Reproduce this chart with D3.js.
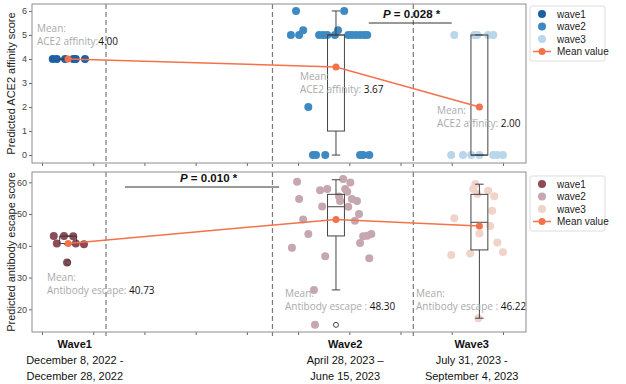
<!DOCTYPE html>
<html>
<head>
<meta charset="utf-8">
<script src="https://cdn.jsdelivr.net/npm/d3@7"></script>
<style>
  body { margin: 0; background: #fff; }
  text { font-family: "Liberation Sans", Arial, sans-serif; }
  .note { font-family: "Open Sans", "Liberation Sans", sans-serif; }
</style>
</head>
<body>
<div id="chart"></div>
<script>
var width = 626, height = 384;

// x positions (arbitrary time units), waves and dividers
var waves = ["wave1", "wave2", "wave3"];
var waveX = [0.51, 5.74, 8.54];
var dividers = [1.25, 4.5, 7.25];
var xTicks = d3.range(0, 10);
var waveTitles = ["Wave1", "Wave2", "Wave3"];
var waveDates = [["December 8, 2022 -", "December 28, 2022"],
                 ["April 28, 2023 \u2013", "June 15, 2023"],
                 ["July 31, 2023 -", "September 4, 2023"]];
var labelX = [0.64, 5.92, 8.39];

// ACE2 affinity points [x, score]
var ace1 = [[0.21,4],[0.29,4],[0.45,4],[0.61,4],[0.66,4],[0.84,4]];
var ace2 = [[4.96,6],[5.90,6],[5.10,5.2],[5.78,5.2],[4.86,5],[5.02,5],[5.41,5],[5.49,5],[5.57,5],
            [5.72,5],[5.98,5],[6.05,5],[6.13,5],[6.21,5],[6.29,5],[6.35,5],[5.20,2],
            [5.29,0],[5.35,0],[5.53,0],[6.21,0],[6.27,0],[6.39,0]];
var ace3 = [[8.05,5],[8.44,5],[8.50,5],[8.71,5],[8.81,5],
            [7.99,0],[8.22,0],[8.38,0],[8.54,0],[8.81,0],[8.89,0],[9.00,0]];
var aceMeans = [4.00, 3.67, 2.00];
// box stats: [lo, q1, median, q3, hi]
var aceBoxes = [[4,4,4,4,4],[0,1,5,5,6],[0,0,0,5,5]];
var aceOut = [[], [], []];

// antibody escape points [x, score]
var esc1 = [[0.23,43.1],[0.43,43.1],[0.61,43],[0.29,40.7],[0.66,40.7],[0.82,40.5],[0.49,34.7]];
var esc2 = [[4.98,60.2],[5.02,54.7],[5.43,57.5],[5.57,57.9],[5.88,61],[6.02,59.9],[5.92,57.9],
            [5.96,57],[5.80,55.5],[5.82,54.1],[6.05,54.7],[6.15,54.1],[5.47,52.4],[5.98,52.3],
            [6.19,50],[5.10,48.3],[6.11,47.9],[5.20,43.7],[6.27,43],[6.35,43.2],[6.43,43.7],
            [6.21,40.9],[4.88,39.4],[5.53,36.7],[6.39,36.1],[5.31,26.1],[5.33,15.1]];
var esc3 = [[8.46,59.5],[8.42,57.9],[8.50,56.3],[8.71,57.3],[8.83,55.6],[8.79,51],[8.05,48.7],
            [8.75,46.2],[8.54,43.9],[8.89,41],[7.99,37.1],[8.36,37.6],[9.00,38],[8.52,17.2]];
var escMeans = [40.73, 48.30, 46.22];
var escBoxes = [[40.5,40.7,43,43,43.1],[26.1,43.1,52.3,56.2,60.8],[17.2,38.7,47.4,56.2,59.4]];
var escOut = [[34.7], [15.1], []];

var aceColors = ["#1f5fa6", "#3d8ac3", "#b9d6ea"];
var escColors = ["#8c4b57", "#c6a7b0", "#f0d3c9"];
var meanColor = "#f4724a";

var svg = d3.select("#chart").append("svg")
    .attr("width", width).attr("height", height);

var x = d3.scaleLinear().domain([-0.195, 9.45]).range([32, 526]);

function panel(cfg) {
  var y = d3.scaleLinear().domain(cfg.yDomain).range([cfg.bottom, cfg.top]);
  var g = svg.append("g");

  // dashed dividers
  g.selectAll(".div").data(dividers).enter().append("line")
    .attr("x1", d => x(d)).attr("x2", d => x(d))
    .attr("y1", cfg.top).attr("y2", cfg.bottom + 4)
    .attr("stroke", "#7a7a7a").attr("stroke-width", 1.2)
    .attr("stroke-dasharray", "5,3");

  // points
  cfg.points.forEach(function(pts, i) {
    g.selectAll(null).data(pts).enter().append("circle")
      .attr("cx", d => x(d[0])).attr("cy", d => y(d[1]))
      .attr("r", 4).attr("fill", cfg.colors[i]);
  });

  // boxes
  var bw = 0.33;
  cfg.boxes.forEach(function(b, i) {
    var cx = waveX[i];
    var bg = g.append("g").attr("stroke", "#444").attr("fill", "none");
    bg.append("line").attr("x1", x(cx)).attr("x2", x(cx)).attr("y1", y(b[0])).attr("y2", y(b[1]));
    bg.append("line").attr("x1", x(cx)).attr("x2", x(cx)).attr("y1", y(b[3])).attr("y2", y(b[4]));
    [b[0], b[4]].forEach(function(v) {
      bg.append("line").attr("x1", x(cx - bw / 4)).attr("x2", x(cx + bw / 4))
        .attr("y1", y(v)).attr("y2", y(v));
    });
    bg.append("rect").attr("x", x(cx - bw / 2)).attr("width", x(cx + bw / 2) - x(cx - bw / 2))
      .attr("y", y(b[3])).attr("height", Math.max(y(b[1]) - y(b[3]), 0.5));
    bg.append("line").attr("x1", x(cx - bw / 2)).attr("x2", x(cx + bw / 2))
      .attr("y1", y(b[2])).attr("y2", y(b[2]));
    cfg.outliers[i].forEach(function(v) {
      bg.append("circle").attr("cx", x(cx)).attr("cy", y(v)).attr("r", 2.5);
    });
  });

  // mean line
  var md = cfg.means.map((m, i) => [waveX[i], m]);
  g.append("path").datum(md)
    .attr("d", d3.line().x(d => x(d[0])).y(d => y(d[1])))
    .attr("fill", "none").attr("stroke", meanColor).attr("stroke-width", 1.5);
  g.selectAll(null).data(md).enter().append("circle")
    .attr("cx", d => x(d[0])).attr("cy", d => y(d[1])).attr("r", 3.5).attr("fill", meanColor);

  // mean notes
  cfg.notes.forEach(function(n, i) {
    g.append("text").attr("class", "note").attr("font-size", 10)
      .attr("x", n[0]).attr("y", n[1]).attr("fill", "#aaa").text("Mean:");
    var t2 = g.append("text").attr("class", "note").attr("font-size", 10)
      .attr("x", n[0]).attr("y", n[1] + 12.5).attr("fill", "#aaa");
    t2.append("tspan").text(cfg.noteLabel[i]);
    t2.append("tspan").attr("fill", "#111").text(cfg.means[i].toFixed(2));
  });

  // p-value
  var p = cfg.p;
  g.append("line").attr("x1", x(p.x1)).attr("x2", x(p.x2)).attr("y1", p.ly).attr("y2", p.ly)
    .attr("stroke", "#333").attr("stroke-width", 1);
  var pt = g.append("text").attr("x", p.tx).attr("y", p.ty).attr("font-size", 11.5)
    .attr("font-weight", "bold").attr("fill", "#111");
  pt.append("tspan").attr("font-style", "italic").text("P");
  pt.append("tspan").text(" = " + p.value + " *");

  // axes
  var ya = g.append("g").attr("transform", "translate(32,0)")
    .call(d3.axisLeft(y).tickValues(cfg.yTicks).tickFormat(d3.format("d")).tickSize(3).tickPadding(2));
  ya.select(".domain").remove();
  ya.selectAll("line").attr("stroke", "#666");
  ya.selectAll("text").attr("font-size", 9).attr("fill", "#444").attr("font-family", "Liberation Sans, Arial");
  var xa = g.append("g").attr("transform", "translate(0," + cfg.bottom + ")")
    .call(d3.axisBottom(x).tickValues(xTicks).tickFormat("").tickSize(3));
  xa.select(".domain").remove();
  xa.selectAll("line").attr("stroke", "#666");

  g.append("rect").attr("x", 32).attr("y", cfg.top).attr("width", 494)
    .attr("height", cfg.bottom - cfg.top).attr("fill", "none").attr("stroke", "#8c8c8c");

  g.append("text").attr("transform", "translate(15," + ((cfg.top + cfg.bottom) / 2) + ") rotate(-90)")
    .attr("text-anchor", "middle").attr("font-size", 11).attr("fill", "#222").text(cfg.yLabel);

  // legend
  var lg = g.append("g").attr("transform", "translate(530," + cfg.legendTop + ")");
  lg.append("rect").attr("width", 75).attr("height", 55).attr("rx", 2)
    .attr("fill", "#fff").attr("stroke", "#ddd");
  var items = waves.concat(["Mean value"]);
  items.forEach(function(name, i) {
    var yy = 8 + i * 12.5;
    if (i < 3) {
      lg.append("circle").attr("cx", 12).attr("cy", yy).attr("r", 4).attr("fill", cfg.colors[i]);
    } else {
      lg.append("line").attr("x1", 3).attr("x2", 21).attr("y1", yy).attr("y2", yy)
        .attr("stroke", meanColor).attr("stroke-width", 1.5);
      lg.append("circle").attr("cx", 12).attr("cy", yy).attr("r", 3.5).attr("fill", meanColor);
    }
    lg.append("text").attr("x", 27).attr("y", yy + 3.5).attr("font-size", 10)
      .attr("fill", "#222").text(name);
  });
}

panel({
  top: 4, bottom: 163, yDomain: [-0.33, 6.29], yTicks: d3.range(0, 7),
  points: [ace1, ace2, ace3], colors: aceColors, boxes: aceBoxes, outliers: aceOut,
  means: aceMeans, notes: [[37, 32], [300, 80], [437, 114]],
  noteLabel: ["ACE2 affinity:", "ACE2 affinity: ", "ACE2 affinity: "],
  p: { x1: 6.38, x2: 8.0, ly: 23, tx: 383, ty: 18, value: "0.028" },
  yLabel: "Predicted ACE2 affinity score", legendTop: 6
});

panel({
  top: 172, bottom: 332, yDomain: [12.85, 63.24], yTicks: [20, 30, 40, 50, 60],
  points: [esc1, esc2, esc3], colors: escColors, boxes: escBoxes, outliers: escOut,
  means: escMeans, notes: [[47, 281], [285, 297], [416, 297]],
  noteLabel: ["Antibody escape: ", "Antibody escape : ", "Antibody escape : "],
  p: { x1: 1.62, x2: 4.63, ly: 187, tx: 180, ty: 182, value: "0.010" },
  yLabel: "Predicted antibody escape score", legendTop: 176
});

// x labels
labelX.forEach(function(lx, i) {
  var t = svg.append("text").attr("text-anchor", "middle").attr("font-size", 11).attr("fill", "#111");
  t.append("tspan").attr("x", x(lx)).attr("y", 348).attr("font-weight", "bold").text(waveTitles[i]);
  t.append("tspan").attr("x", x(lx)).attr("y", 364).text(waveDates[i][0]);
  t.append("tspan").attr("x", x(lx)).attr("y", 380).text(waveDates[i][1]);
});
</script>
</body>
</html>
